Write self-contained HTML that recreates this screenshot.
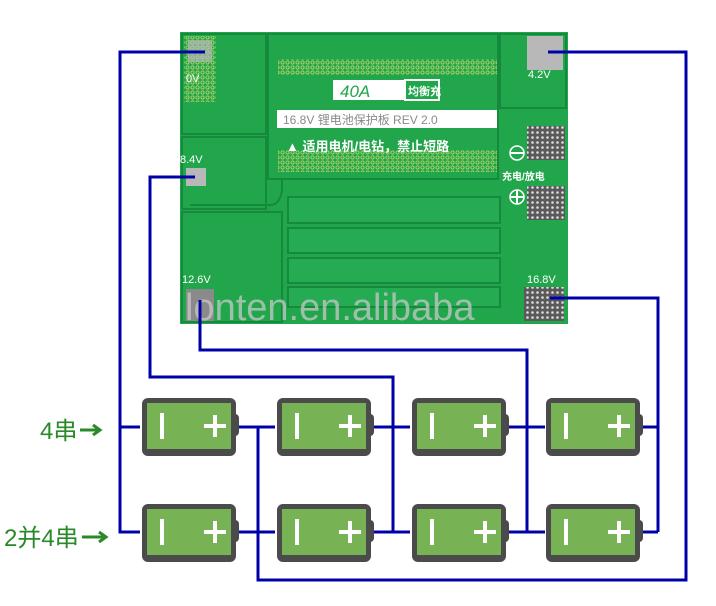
<!DOCTYPE html>
<html><head><meta charset="utf-8"><style>
html,body{margin:0;padding:0;background:#fff;width:716px;height:606px;overflow:hidden}
svg{display:block}
text{font-family:"Liberation Sans","Noto Sans CJK SC",sans-serif}
</style></head><body>
<svg width="716" height="606" viewBox="0 0 716 606">
<defs>
<pattern id="dots" width="5" height="5" patternUnits="userSpaceOnUse">
<circle cx="2.5" cy="2.5" r="1.6" fill="none" stroke="#c8d86a" stroke-width="0.8"/>
</pattern>
<pattern id="dk" width="5" height="5" patternUnits="userSpaceOnUse">
<rect width="5" height="5" fill="#5a5a5a"/><circle cx="2.5" cy="2.5" r="1.3" fill="#ddd"/>
</pattern>
<g id="bat">
<rect x="-3" y="3" width="8" height="22" rx="4" fill="#4a4a4a" transform="translate(92,13)"/>
<rect x="0" y="0" width="94" height="58" rx="6" fill="#4b4b4b"/>
<rect x="5" y="5" width="84" height="46" fill="#77b255"/>
<rect x="18" y="15" width="4" height="26" fill="#fff"/>
<rect x="62" y="26" width="22" height="4" fill="#fff"/>
<rect x="71" y="17" width="4" height="22" fill="#fff"/>
</g>
</defs>
<rect x="180" y="32" width="388" height="292" fill="#21a64c"/>
<g fill="none" stroke="#168a3c" stroke-width="2">
<rect x="182" y="34" width="84" height="100"/>
<rect x="268" y="34" width="230" height="145"/>
<rect x="500" y="34" width="66" height="74"/>
<rect x="182" y="137" width="84" height="72"/>
<rect x="182" y="212" width="100" height="110"/>
<path d="M190 205 H270 Q280 205 282 190 V180"/>
</g>
<rect x="278" y="59" width="219" height="16" fill="url(#dots)"/>
<rect x="278" y="150" width="219" height="22" fill="url(#dots)"/>
<rect x="184" y="36" width="32" height="66" fill="url(#dots)"/>
<rect x="188" y="40" width="24" height="22" fill="#b8b8b8" opacity="0.7"/>
<rect x="333" y="80" width="72" height="20" fill="#fff"/>
<rect x="405" y="80" width="34" height="20" fill="#21a64c" stroke="#fff" stroke-width="2"/>
<text x="340" y="97" font-size="17" fill="#21a64c" font-style="italic">40A</text>
<text x="408" y="95" font-size="11" fill="#fff" font-weight="bold">均衡充</text>
<rect x="277" y="110" width="220" height="18" fill="#fff"/>
<text x="283" y="124" font-size="12" fill="#8a8a8a">16.8V 锂电池保护板 REV 2.0</text>
<text x="286" y="151" font-size="13" fill="#fff" font-weight="bold">▲ 适用电机/电钻，禁止短路</text>
<g fill="#25ab52" stroke="#168a3c" stroke-width="2">
<rect x="288" y="197" width="212" height="26"/>
<rect x="288" y="228" width="212" height="25"/>
<rect x="288" y="258" width="212" height="25"/>
<rect x="288" y="287" width="212" height="20"/>
</g>
<rect x="527" y="126" width="38" height="34" fill="url(#dk)"/>
<rect x="527" y="186" width="38" height="34" fill="url(#dk)"/>
<rect x="527" y="36" width="36" height="34" fill="#b8b8b8"/>
<rect x="524" y="287" width="40" height="34" fill="url(#dk)"/>
<rect x="186" y="289" width="28" height="32" fill="#8a8a8a"/>
<rect x="186" y="168" width="20" height="18" fill="#b8b8b8"/>
<circle cx="517" cy="153" r="7" fill="none" stroke="#fff" stroke-width="1.5"/><line x1="510" y1="153" x2="524" y2="153" stroke="#fff" stroke-width="2"/>
<circle cx="517" cy="197" r="7" fill="none" stroke="#fff" stroke-width="1.5"/><line x1="510" y1="197" x2="524" y2="197" stroke="#fff" stroke-width="2"/><line x1="517" y1="190" x2="517" y2="204" stroke="#fff" stroke-width="2"/>
<g fill="#fff" font-size="11">
<text x="186" y="82">0V</text>
<text x="528" y="78">4.2V</text>
<text x="180" y="163">8.4V</text>
<text x="182" y="283">12.6V</text>
<text x="527" y="283">16.8V</text>
<text x="502" y="180" font-size="10" font-weight="bold">充电/放电</text>
</g>
<text x="185" y="320" font-size="38" fill="#c8c8c8" opacity="0.75">lonten.en.alibaba</text>
<g fill="none" stroke="#0000a8" stroke-width="3">
<path d="M205 52 H120 V532 H140"/>
<path d="M120 427 H140"/>
<path d="M548 52 H686 V580 H258 V427"/>
<path d="M195 177 H150 V377 H393 V532"/>
<path d="M200 300 V350 H527 V532"/>
<path d="M550 298 H658 V532"/>
<path d="M235 427 H275 M370 427 H410 M505 427 H545 M640 427 H658"/>
<path d="M235 532 H275 M370 532 H410 M505 532 H545 M640 532 H658"/>
</g>
<use href="#bat" x="142" y="398"/>
<use href="#bat" x="277" y="398"/>
<use href="#bat" x="412" y="398"/>
<use href="#bat" x="546" y="398"/>
<use href="#bat" x="142" y="504"/>
<use href="#bat" x="277" y="504"/>
<use href="#bat" x="412" y="504"/>
<use href="#bat" x="546" y="504"/>
<text x="40" y="439" font-size="24" fill="#2a8a2a">4串</text>
<path d="M80 430 H98 M93 425 L100 430 L93 435" stroke="#2a8a2a" stroke-width="3" fill="none"/>
<text x="4" y="546" font-size="24" fill="#2a8a2a">2并4串</text>
<path d="M82 537 H104 M99 532 L106 537 L99 542" stroke="#2a8a2a" stroke-width="3" fill="none"/>
</svg>
</body></html>
